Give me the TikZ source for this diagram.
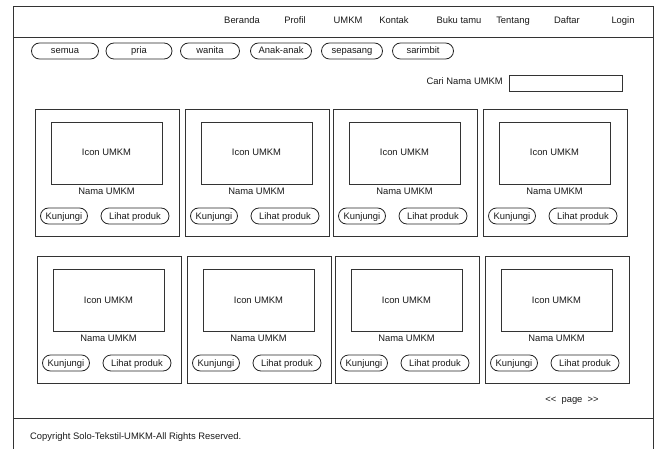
\documentclass[tikz,border=0pt]{standalone}
\usepackage{fontspec}
\setmainfont[Ligatures=NoCommon]{Liberation Sans}
\usetikzlibrary{shapes.misc}
\begin{document}
\begin{tikzpicture}[x=1pt,y=-1pt,
  every node/.style={font=\fontsize{9.4}{11}\selectfont, text=black!90,
    text height=6.8pt, text depth=0.8pt},
  frameline/.style={draw=black!80, line width=0.9pt},
  box/.style={draw=black!80, line width=0.9pt, rectangle, inner sep=0pt, anchor=north west},
  pill/.style={draw=black!85, line width=0.8pt, rounded rectangle, inner sep=0pt, minimum height=16pt},
  navitem/.style={inner sep=0pt},
  label/.style={inner sep=0pt}]
\useasboundingbox (0,0) rectangle (655,449);

% page frame, header and footer separators
\draw[frameline] (13,449) -- (13,6) -- (653,6) -- (653,449);
\draw[frameline] (13,37) -- (653,37);
\draw[frameline] (13,418) -- (653,418);

% navigation menu
\node[navitem] (nav1) at (242,21) {Beranda};
\node[navitem] (nav2) at (295,21) {Profil};
\node[navitem] (nav3) at (348,21) {UMKM};
\node[navitem] (nav4) at (394,21) {Kontak};
\node[navitem] (nav5) at (459,21) {Buku tamu};
\node[navitem] (nav6) at (513,21) {Tentang};
\node[navitem] (nav7) at (567,21) {Daftar};
\node[navitem] (nav8) at (623,21) {Login};

% category filters
\node[pill, minimum width=67pt] (cat1) at (65,51) {semua};
\node[pill, minimum width=66pt] (cat2) at (139,51) {pria};
\node[pill, minimum width=59pt] (cat3) at (210,51) {wanita};
\node[pill, minimum width=61pt] (cat4) at (281,51) {Anak-anak};
\node[pill, minimum width=61pt] (cat5) at (352,51) {sepasang};
\node[pill, minimum width=61pt] (cat6) at (423,51) {sarimbit};

% search field
\node[label, anchor=east] (searchlbl) at (503,82) {Cari Nama UMKM};
\node[box, minimum width=113pt, minimum height=16pt] (searchbox) at (509,75) {};

% product cards
\foreach \r/\cx/\cy in {1/35/109, 2/185/109, 3/333/109, 4/483/109,
                        5/37/256, 6/187/256, 7/335/256, 8/485/256} {
  \node[box, minimum width=144pt, minimum height=127pt] (card\r) at (\cx,\cy) {};
  \node[box, minimum width=111pt, minimum height=62pt] (icon\r) at (\cx+16,\cy+13) {};
  \node[label] (icontext\r) at (\cx+71.5,\cy+44) {Icon UMKM};
  \node[label] (nama\r) at (\cx+71.5,\cy+82) {Nama UMKM};
  \node[pill, minimum width=47pt] (visit\r) at (\cx+29,\cy+107) {Kunjungi};
  \node[pill, minimum width=68pt] (view\r) at (\cx+100,\cy+107) {Lihat produk};
}

% pagination
\node[label] (page) at (572,399) {<{}<\ \ page\ \ >{}>};

% footer
\node[label, anchor=west] (copy) at (30,436) {Copyright Solo-Tekstil-UMKM-All Rights Reserved.};
\end{tikzpicture}
\end{document}
